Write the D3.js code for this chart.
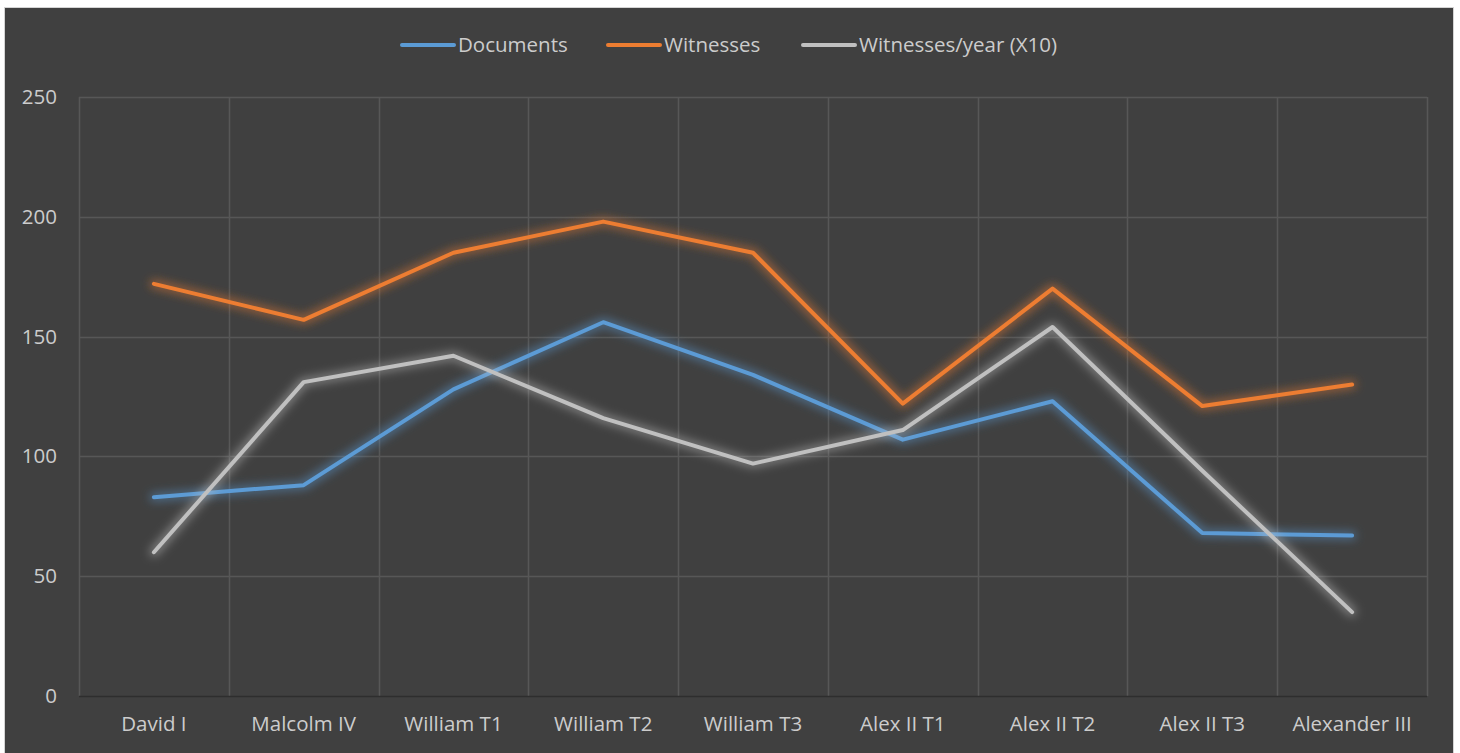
<!DOCTYPE html>
<html>
<head>
<meta charset="utf-8">
<script src="https://cdn.jsdelivr.net/npm/d3@7"></script>
<style>
  html, body { margin: 0; padding: 0; background: #ffffff; }
  svg { display: block; }
  text { font-family: "Open Sans", "Noto Sans", sans-serif; }
</style>
</head>
<body>
<svg id="chart" width="1460" height="753"></svg>
<script>
// Reign periods on the category axis
const periods = ["David I", "Malcolm IV", "William T1", "William T2", "William T3",
                 "Alex II T1", "Alex II T2", "Alex II T3", "Alexander III"];

// Series values per period
const documents = [83, 88, 128, 156, 134, 107, 123, 68, 67];
const witnesses = [172, 157, 185, 198, 185, 122, 170, 121, 130];
const witnessesPerYear = [60, 131, 142, 116, 97, 111, 154, 94, 35];

// Value-axis ticks
const yTicks = [0, 50, 100, 150, 200, 250];

const seriesNames = ["Documents", "Witnesses", "Witnesses/year (X10)"];
const seriesColors = ["#5b9bd5", "#ed7d31", "#c0c0c0"];
const seriesData = [documents, witnesses, witnessesPerYear];

const svg = d3.select("#chart");
const plot = { left: 79, right: 1427, top: 97, bottom: 696 };
const textColor = "#cccccc";
const fontSize = 20.5;

// Chart frame
svg.append("rect")
  .attr("x", 4.5).attr("y", 7.5)
  .attr("width", 1449).attr("height", 760)
  .attr("fill", "#404040")
  .attr("stroke", "#d4d4d4").attr("stroke-width", 1);

const x = d3.scaleBand().domain(periods).range([plot.left, plot.right]).padding(0);
const y = d3.scaleLinear().domain([0, 250]).range([plot.bottom, plot.top]);

// Soft glow behind each series line
const defs = svg.append("defs");
seriesColors.forEach((c, i) => {
  const f = defs.append("filter").attr("id", "glow" + i)
    .attr("x", "-10%").attr("y", "-30%").attr("width", "120%").attr("height", "160%");
  f.append("feMorphology").attr("in", "SourceGraphic").attr("operator", "dilate")
    .attr("radius", 2).attr("result", "d");
  f.append("feGaussianBlur").attr("in", "d").attr("stdDeviation", 5).attr("result", "b");
  f.append("feComponentTransfer").attr("in", "b").attr("result", "bf")
    .append("feFuncA").attr("type", "linear").attr("slope", 0.5);
  const m = f.append("feMerge");
  m.append("feMergeNode").attr("in", "bf");
  m.append("feMergeNode").attr("in", "SourceGraphic");
});

// Horizontal gridlines
const grid = svg.append("g");
grid.selectAll("line.h")
  .data(yTicks.filter(t => t > 0))
  .join("line")
  .attr("x1", plot.left).attr("x2", plot.right)
  .attr("y1", d => Math.round(y(d)) + 0.5).attr("y2", d => Math.round(y(d)) + 0.5)
  .attr("stroke", "#575757").attr("stroke-width", 1.5);

// Vertical gridlines at category boundaries
const edges = periods.map(p => x(p)).concat([plot.right]);
grid.selectAll("line.v")
  .data(edges)
  .join("line")
  .attr("x1", d => Math.round(d) + 0.5).attr("x2", d => Math.round(d) + 0.5)
  .attr("y1", plot.top).attr("y2", plot.bottom)
  .attr("stroke", "#575757").attr("stroke-width", 1.5);

// Baseline
svg.append("line")
  .attr("x1", plot.left).attr("x2", plot.right)
  .attr("y1", Math.round(y(0)) + 0.5).attr("y2", Math.round(y(0)) + 0.5)
  .attr("stroke", "#2e2e2e").attr("stroke-width", 1.5);

// Value axis
const yAxis = d3.axisLeft(y).tickValues(yTicks).tickSize(0).tickPadding(0);
const yg = svg.append("g").attr("transform", `translate(57,0)`).call(yAxis);
yg.select(".domain").remove();
yg.selectAll("text")
  .attr("fill", textColor).attr("font-size", fontSize)
  .attr("dy", "0.32em")
  .style("font-family", '"Open Sans", sans-serif');

// Category axis
const xAxis = d3.axisBottom(x).tickSize(0).tickPadding(0);
const xg = svg.append("g").attr("transform", `translate(0,${plot.bottom + 20})`).call(xAxis);
xg.select(".domain").remove();
xg.selectAll("text")
  .attr("fill", textColor).attr("font-size", fontSize)
  .attr("dy", "0.71em")
  .style("font-family", '"Open Sans", sans-serif');

// Series lines
const line = d3.line()
  .x((d, i) => x(periods[i]) + x.bandwidth() / 2)
  .y(d => y(d));

seriesData.forEach((vals, i) => {
  svg.append("path")
    .datum(vals)
    .attr("d", line)
    .attr("fill", "none")
    .attr("stroke", seriesColors[i])
    .attr("stroke-width", 4)
    .attr("stroke-linejoin", "round")
    .attr("stroke-linecap", "round")
    .attr("filter", `url(#glow${i})`);
});

// Legend
const legendX = [400, 606, 801];
const legend = svg.append("g");
seriesNames.forEach((name, i) => {
  const g = legend.append("g").attr("transform", `translate(${legendX[i]},45)`);
  g.append("line")
    .attr("x1", 2).attr("x2", 54).attr("y1", 0).attr("y2", 0)
    .attr("stroke", seriesColors[i]).attr("stroke-width", 4)
    .attr("stroke-linecap", "round");
  g.append("text")
    .attr("x", 58).attr("y", 0).attr("dy", "0.35em")
    .attr("fill", textColor).attr("font-size", fontSize)
    .text(name);
});
</script>
</body>
</html>
